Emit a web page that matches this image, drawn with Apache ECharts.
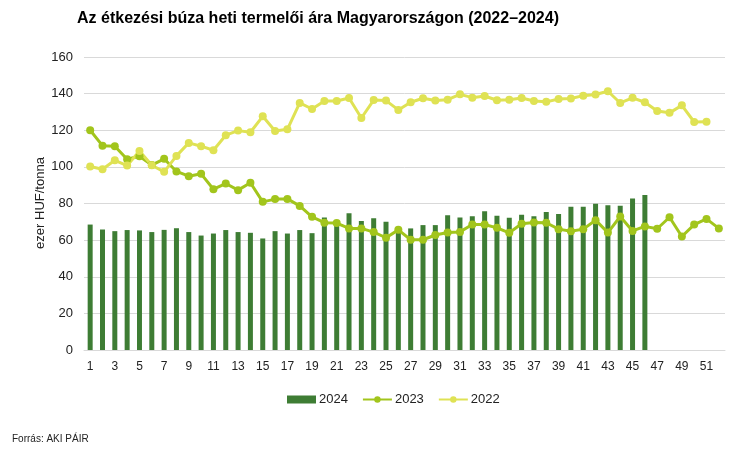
<!DOCTYPE html>
<html>
<head>
<meta charset="utf-8">
<script src="https://cdn.jsdelivr.net/npm/echarts@6/dist/echarts.min.js"></script>
<style>
html,body{margin:0;padding:0;background:#fff;}
#chart{width:756px;height:449px;}
</style>
</head>
<body>
<div id="chart"></div>
<script>
const weeks = Array.from({length: 52}, (_, i) => String(i + 1));
const y2024 = [68.5,65.8,64.9,65.5,65.3,64.4,65.6,66.5,64.4,62.5,
  63.6,65.5,64.4,64,60.9,64.9,63.6,65.5,63.8,72.4,
  70.5,74.7,70.5,72,70,66.5,66.4,68.2,68.2,73.6,
  72.4,73.1,75.8,73.3,72.2,73.8,73.1,75.3,74.2,78.2,
  78.2,79.8,79.1,78.8,82.7,84.7];
const y2023 = [120,111.6,111.3,104.2,105.8,101,104.4,97.5,94.9,96.2,
  87.8,90.9,87.3,91.3,80.9,82.4,82.5,78.7,72.7,69.5,
  69.3,66.4,66.4,64.4,61.3,65.6,60.2,60.2,62.8,64.2,
  64.5,68.5,68.5,66.7,64,68.9,69.6,69.5,66,64.9,
  66,70.9,64.1,72.9,65,67.5,66.2,72.5,62,68.5,71.6,66.4];
const y2022 = [100.2,98.7,103.6,100.7,108.7,100.9,97.3,106,113.1,111.3,
  109.1,117.3,119.8,118.9,127.6,119.6,120.5,134.9,131.6,136,
  136,137.6,126.7,136.5,136.2,131.1,135.3,137.5,136.2,136.7,
  139.6,137.8,138.7,136.4,136.7,137.6,136,135.5,137.1,137.3,
  138.9,139.5,141.3,134.9,137.7,135.3,130.5,129.5,133.6,124.5,124.7,null];
const yTicks = {min: 0, max: 160, interval: 20};

const FONT = 'Liberation Sans, Arial, sans-serif';
const chart = echarts.init(document.getElementById('chart'), null, {renderer: 'canvas'});
chart.setOption({
  animation: false,
  backgroundColor: '#ffffff',
  title: [{
    text: 'Az étkezési búza heti termelői ára Magyarországon (2022–2024)',
    left: 72, top: 6,
    textStyle: {fontFamily: FONT, fontSize: 16, fontWeight: 'bold', color: '#000'}
  }, {
    text: 'Forrás: AKI PÁIR',
    left: 7, top: 429,
    textStyle: {fontFamily: FONT, fontSize: 10, fontWeight: 'normal', color: '#222'}
  }],
  graphic: [{
    type: 'text', x: 40, y: 203, rotation: Math.PI / 2,
    style: {text: 'ezer HUF/tonna', font: '13px Liberation Sans, Arial, sans-serif',
      fill: '#222', align: 'center', verticalAlign: 'middle'}
  }],
  legend: {
    data: [{name: '2024', icon: 'rect'}, {name: '2023'}, {name: '2022'}],
    left: 282, top: 388,
    itemWidth: 29, itemHeight: 8, itemGap: 14,
    textStyle: {fontFamily: FONT, fontSize: 13, color: '#222', padding: [0,0,0,-2]}
  },
  grid: {left: 84, right: 31, top: 57, bottom: 99, containLabel: false},
  xAxis: {
    type: 'category', data: weeks, boundaryGap: true,
    axisLine: {lineStyle: {color: '#d9d9d9', width: 1}},
    axisTick: {show: false},
    axisLabel: {interval: 1, fontFamily: FONT, fontSize: 12, color: '#222', margin: 11}
  },
  yAxis: {
    type: 'value', min: yTicks.min, max: yTicks.max, interval: yTicks.interval,
    axisLine: {show: false}, axisTick: {show: false},
    axisLabel: {fontFamily: FONT, fontSize: 13, color: '#222', margin: 11},
    splitLine: {lineStyle: {color: '#d9d9d9', width: 1}}
  },
  series: [{
    name: '2024', type: 'bar', data: y2024, barWidth: 5,
    itemStyle: {color: '#3e7d34'}
  }, {
    name: '2023', type: 'line', data: y2023,
    symbol: 'circle', symbolSize: 8, showAllSymbol: true,
    lineStyle: {color: '#a2c51c', width: 3},
    itemStyle: {color: '#a2c51c'}
  }, {
    name: '2022', type: 'line', data: y2022,
    symbol: 'circle', symbolSize: 8, showAllSymbol: true,
    lineStyle: {color: '#dfe254', width: 3},
    itemStyle: {color: '#dfe254'}
  }]
});
</script>
</body>
</html>
